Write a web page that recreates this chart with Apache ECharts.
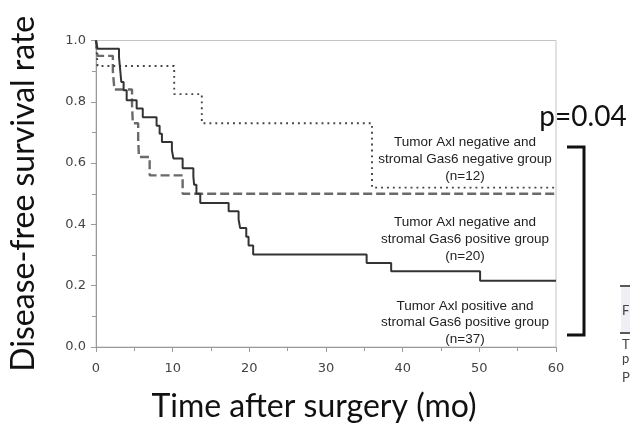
<!DOCTYPE html>
<html>
<head>
<meta charset="utf-8">
<script src="https://cdn.jsdelivr.net/npm/echarts@6/dist/echarts.min.js"></script>
<style>html,body{margin:0;padding:0;background:#fff;}#c{width:630px;height:428px;}</style>
</head>
<body>
<div id="c"></div>
<script>
// x tick values (months) and y tick values (survival rate)
const xTicks = [0, 10, 20, 30, 40, 50, 60];
const yTicks = [0.0, 0.2, 0.4, 0.6, 0.8, 1.0];

// Kaplan–Meier step points [time (mo), survival]
const axlNegGas6Neg = [[0,1.0],[0.2,0.917],[10.2,0.825],[13.8,0.73],[36.0,0.52],[60,0.52]];
const axlNegGas6Pos = [[0,1.0],[0.2,0.95],[2.2,0.90],[2.4,0.84],[4.7,0.79],[4.8,0.73],[5.5,0.68],[5.6,0.62],[7.0,0.56],[11.3,0.50],[60,0.50]];
const axlPosGas6Pos = [[0,1.0],[0.2,0.973],[3.0,0.946],[3.1,0.919],[3.2,0.892],[3.3,0.865],[3.6,0.838],[4.0,0.805],[5.3,0.778],[6.1,0.750],[7.9,0.722],[8.3,0.696],[8.6,0.669],[9.9,0.642],[10.1,0.615],[11.3,0.583],[12.7,0.556],[12.8,0.529],[13.1,0.500],[13.6,0.470],[17.3,0.443],[18.6,0.416],[18.8,0.388],[19.6,0.360],[19.9,0.331],[20.5,0.302],[35.3,0.274],[38.5,0.247],[50.1,0.216],[60,0.216]];

const groupLabels = [
  'Tumor Axl negative and\nstromal Gas6 negative group\n(n=12)',
  'Tumor Axl negative and\nstromal Gas6 positive group\n(n=20)',
  'Tumor Axl positive and\nstromal Gas6 positive group\n(n=37)'
];
const pValue = 'p=0.04';

const chart = echarts.init(document.getElementById('c'), null, {renderer: 'canvas'});
const titleFont = 'Lato, "Open Sans", sans-serif';
const labelFont = '"Liberation Sans", Arial, sans-serif';
const tickFont = '"DejaVu Sans", Verdana, sans-serif';

const option = {
  animation: false,
  backgroundColor: '#fff',
  grid: {left: 96, right: 74, top: 40.5, bottom: 77, show: true, borderColor: '#c4c4c4', borderWidth: 1, backgroundColor: 'transparent'},
  xAxis: {
    type: 'value', min: 0, max: 60, interval: 10,
    name: 'Time after surgery (mo)', nameLocation: 'middle', nameGap: 44,
    nameTextStyle: {fontFamily: titleFont, fontSize: 32, color: '#111', padding: [0, 24, 0, 0]},
    axisLine: {show: true, lineStyle: {color: '#9a9a9a', width: 1}},
    axisTick: {show: true, length: 5, lineStyle: {color: '#9a9a9a'}},
    minorTick: {show: true, splitNumber: 2, length: 4, lineStyle: {color: '#9a9a9a'}},
    splitLine: {show: false},
    axisLabel: {margin: 15, fontFamily: tickFont, fontSize: 13, color: '#444', customValues: xTicks},
  },
  yAxis: {
    type: 'value', min: 0, max: 1, interval: 0.2,
    name: 'Disease-free survival rate', nameLocation: 'middle', nameGap: 56, nameRotate: 90,
    nameTextStyle: {fontFamily: titleFont, fontSize: 32, color: '#111'},
    axisLine: {show: true, lineStyle: {color: '#9a9a9a', width: 1}},
    axisTick: {show: true, length: 5, lineStyle: {color: '#9a9a9a'}},
    minorTick: {show: true, splitNumber: 2, length: 4, lineStyle: {color: '#9a9a9a'}},
    splitLine: {show: false},
    axisLabel: {margin: 10, fontFamily: tickFont, fontSize: 13, color: '#444',
      customValues: yTicks, formatter: v => v.toFixed(1)},
  },
  series: [
    {name: 'Axl-/Gas6-', type: 'line', step: 'end', data: axlNegGas6Neg, showSymbol: false, symbol: 'none',
     lineStyle: {color: '#444', width: 1.9, type: [1.9, 4], cap: 'butt'}, z: 3},
    {name: 'Axl-/Gas6+', type: 'line', step: 'end', data: axlNegGas6Pos, showSymbol: false, symbol: 'none',
     lineStyle: {color: '#6a6a6a', width: 2.4, type: [9, 4]}, z: 2},
    {name: 'Axl+/Gas6+', type: 'line', step: 'end', data: axlPosGas6Pos, showSymbol: false, symbol: 'none',
     lineStyle: {color: '#333', width: 2}, z: 4},
  ],
  graphic: [
    {type: 'text', x: 465, y: 134, style: {text: groupLabels[0], fontFamily: labelFont, fontSize: 13.5, lineHeight: 17, align: 'center', fill: '#222'}},
    {type: 'text', x: 465, y: 214, style: {text: groupLabels[1], fontFamily: labelFont, fontSize: 13.5, lineHeight: 17, align: 'center', fill: '#222'}},
    {type: 'text', x: 465, y: 298, style: {text: groupLabels[2], fontFamily: labelFont, fontSize: 13.5, lineHeight: 16.5, align: 'center', fill: '#222'}},
    {type: 'text', x: 583, y: 117, style: {text: pValue, fontFamily: titleFont, fontSize: 28, align: 'center', verticalAlign: 'middle', fill: '#111'}},
    {type: 'polyline', shape: {points: [[567,147],[584,147],[584,335],[567,335]]}, style: {stroke: '#111', lineWidth: 3, fill: null}},
    // clipped table fragment at the right edge
    {type: 'rect', shape: {x: 621, y: 287, width: 9, height: 45}, style: {fill: '#eef0f6'}},
    {type: 'line', shape: {x1: 620, y1: 286, x2: 630, y2: 286}, style: {stroke: '#222', lineWidth: 1.5}},
    {type: 'line', shape: {x1: 620, y1: 333, x2: 630, y2: 333}, style: {stroke: '#222', lineWidth: 1.5}},
    {type: 'text', x: 622, y: 311, style: {text: 'F', fontFamily: titleFont, fontSize: 13, verticalAlign: 'middle', fill: '#444'}},
    {type: 'text', x: 622, y: 345, style: {text: 'T', fontFamily: titleFont, fontSize: 13, verticalAlign: 'middle', fill: '#444'}},
    {type: 'text', x: 622, y: 359, style: {text: 'p', fontFamily: titleFont, fontSize: 13, verticalAlign: 'middle', fill: '#444'}},
    {type: 'text', x: 622, y: 378, style: {text: 'P', fontFamily: titleFont, fontSize: 13, verticalAlign: 'middle', fill: '#444'}},
  ]
};
chart.setOption(option);
</script>
</body>
</html>
